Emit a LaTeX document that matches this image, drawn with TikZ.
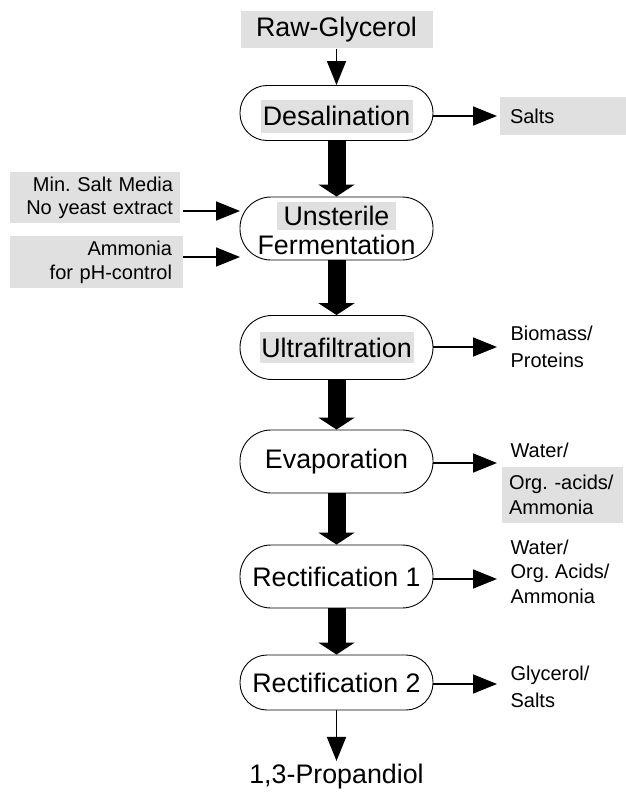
\documentclass[tikz,border=0pt]{standalone}
\usepackage{fontspec}
\setmainfont{Liberation Sans}
\usetikzlibrary{arrows.meta}
\definecolor{lg}{RGB}{224,224,224}
\frenchspacing
\begin{document}
\begin{tikzpicture}[x=1pt,y=-1pt,
  proc/.style={draw,line width=0.9pt,minimum width=193pt,inner sep=0pt},
  big/.style={font=\fontsize{26.8}{29}\selectfont},
  small/.style={font=\fontsize{20}{24}\selectfont},
  graybg/.style={fill=lg,inner sep=0pt},
  thinarrow/.style={line width=1.6pt,-{Triangle[length=24pt,width=19pt]}},
  thickarrow/.style={line width=18pt,-{Triangle[length=12pt,width=36pt]}}]
\useasboundingbox (0,0) rectangle (626,792);

% main chain
\node[big,graybg,minimum width=192pt,minimum height=37pt] (raw) at (336.5,30) {Raw-Glycerol};
\node[proc,minimum height=55pt,rounded corners=27pt] (des) at (336.5,113) {};
\node[big,graybg,minimum width=152pt,minimum height=33pt] (destext) at (336.5,116) {Desalination};
\node[proc,minimum height=63pt,rounded corners=31pt] (fer) at (336.5,228.5) {};
\node[big,graybg,minimum width=119pt,minimum height=28pt] (fer1) at (336.5,216) {Unsterile};
\node[big] (fer2) at (336.5,245) {Fermentation};
\node[proc,minimum height=64pt,rounded corners=32pt] (ult) at (336.5,347.5) {};
\node[big,graybg,minimum width=154pt,minimum height=31pt] (ulttext) at (336.5,347.5) {Ultrafiltration};
\node[proc,minimum height=63pt,rounded corners=31pt] (eva) at (336.5,461.5) {};
\node[big] (evatext) at (336.5,462) {Evaporation};
\node[proc,minimum height=63pt,rounded corners=31pt] (re1) at (336.5,576.5) {};
\node[big] (re1text) at (336.5,577) {Rectification 1};
\node[proc,minimum height=55pt,rounded corners=27pt] (re2) at (336.5,682.5) {};
\node[big] (re2text) at (336.5,683) {Rectification 2};
\node[big] (prop) at (336.5,777) {1,3-Propandiol};

% side inputs
\node[small,fill=lg,minimum width=170pt,minimum height=51pt,inner xsep=7pt,text width=156pt,align=right,font=\fontsize{20}{23}\selectfont] (msm) at (95,197.5) {Min. Salt Media\\No yeast extract};
\node[small,fill=lg,minimum width=173pt,minimum height=52pt,inner xsep=11pt,text width=151pt,align=right] (amm) at (96.5,262) {Ammonia\\for pH-control};

% side outputs
\node[small,fill=lg,minimum width=126pt,minimum height=38pt,inner xsep=10pt,text width=106pt,align=left] (salts) at (563,116) {Salts};
\node[small,anchor=west,align=left,font=\fontsize{20}{27}\selectfont] (bio) at (507,347) {Biomass/\\Proteins};
\node[small,anchor=west] (water1) at (507,450) {Water/};
\node[small,fill=lg,minimum width=121pt,minimum height=56pt,inner xsep=7pt,text width=107pt,align=left,font=\fontsize{20}{25}\selectfont] (orgacid) at (562.5,495) {\mbox{Org. -acids/}\\Ammonia};
\node[small,anchor=west,align=left,font=\fontsize{20}{24.5}\selectfont] (out1) at (507,571.5) {Water/\\Org. Acids/\\Ammonia};
\node[small,anchor=west,align=left,font=\fontsize{20}{27}\selectfont] (out2) at (507,686.5) {Glycerol/\\Salts};

\coordinate (e1) at (497,116);
\coordinate (e2) at (497,347);
\coordinate (e3) at (497,463);
\coordinate (e4) at (497,579);
\coordinate (e5) at (497,684);
\coordinate (i1) at (240,211);
\coordinate (i2) at (240,257);

% connectors
\draw[thinarrow] (raw.south) -- (des.north);
\draw[thickarrow] (des.south) -- (fer.north);
\draw[thickarrow] (fer.south) -- (ult.north);
\draw[thickarrow] (ult.south) -- (eva.north);
\draw[thickarrow] (eva.south) -- (re1.north);
\draw[thickarrow] (re1.south) -- (re2.north);
\draw[thinarrow] (re2.south) -- (prop.north);

\draw[thinarrow] (des.east |- e1) -- (e1);
\draw[thinarrow] (ult.east |- e2) -- (e2);
\draw[thinarrow] (eva.east |- e3) -- (e3);
\draw[thinarrow] (re1.east |- e4) -- (e4);
\draw[thinarrow] (re2.east |- e5) -- (e5);

\draw[thinarrow] ([xshift=3pt]msm.east |- i1) -- (i1);
\draw[thinarrow] (amm.east |- i2) -- (i2);
\end{tikzpicture}
\end{document}
